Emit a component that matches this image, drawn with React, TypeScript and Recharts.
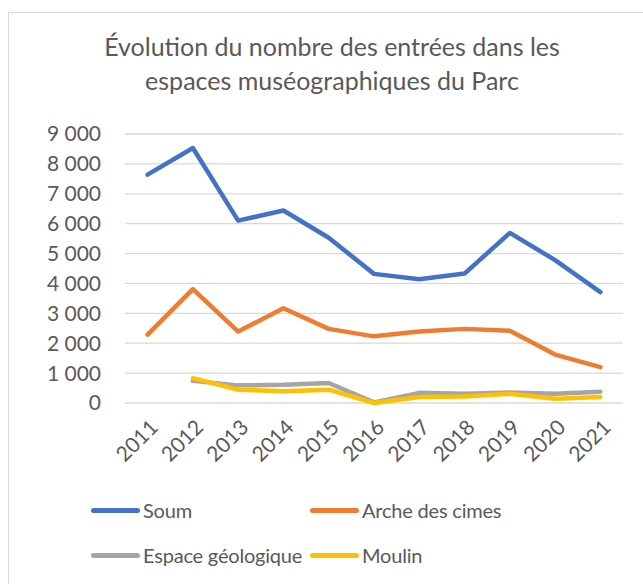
import { LineChart, Line, XAxis, YAxis, CartesianGrid } from "recharts";

const years = ["2011", "2012", "2013", "2014", "2015", "2016", "2017", "2018", "2019", "2020", "2021"];
const soum = [7640, 8530, 6100, 6440, 5530, 4320, 4140, 4330, 5690, 4780, 3710];
const arche = [2290, 3810, 2390, 3170, 2480, 2230, 2390, 2480, 2420, 1620, 1200];
const geologique = [null, 740, 590, 610, 670, 20, 340, 310, 355, 310, 380];
const moulin = [null, 830, 445, 390, 445, 0, 200, 220, 310, 145, 200];
const yTicks = [0, 1000, 2000, 3000, 4000, 5000, 6000, 7000, 8000, 9000];

const series = [
  { key: "soum", name: "Soum", color: "#4472C4" },
  { key: "arche", name: "Arche des cimes", color: "#ED7D31" },
  { key: "geologique", name: "Espace géologique", color: "#A5A5A5" },
  { key: "moulin", name: "Moulin", color: "#FFC000" },
];

const data = years.map((year, i) => ({
  year,
  soum: soum[i],
  arche: arche[i],
  geologique: geologique[i],
  moulin: moulin[i],
}));

const FONT = "Lato, 'Open Sans', sans-serif";
const TEXT = "#595959";

const fmt = (v: number) => String(v).replace(/\B(?=(\d{3})+(?!\d))/g, " ");

function YearTick(props: any) {
  const { x, y, payload } = props;
  return (
    <g transform={`translate(${x + 6},${y + 12})`}>
      <text
        x={0}
        y={0}
        dy={8}
        textAnchor="end"
        transform="rotate(-45)"
        fill={TEXT}
        fontSize={21}
        fontFamily={FONT}
      >
        {payload.value}
      </text>
    </g>
  );
}

export default function App() {
  return (
    <div style={{ position: "absolute", left: 0, top: 0, width: 643, height: 584, background: "#fff", overflow: "hidden" }}>
      <div
        style={{
          position: "absolute",
          left: 8,
          top: 12,
          width: 700,
          height: 600,
          borderTop: "1px solid #d9d9d9",
          borderLeft: "1px solid #d9d9d9",
        }}
      />
      <div
        style={{
          position: "absolute",
          left: 8,
          width: 648,
          top: 29,
          textAlign: "center",
          fontFamily: FONT,
          fontSize: 25,
          lineHeight: "34px",
          color: TEXT,
        }}
      >
        Évolution du nombre des entrées dans les
        <br />
        espaces muséographiques du Parc
      </div>
      <div style={{ position: "absolute", left: 0, top: 0 }}>
        <LineChart width={643} height={584} data={data} margin={{ top: 134, right: 20, left: 0, bottom: 101 }}>
          <CartesianGrid vertical={false} stroke="#d9d9d9" strokeWidth={1.3} />
          <XAxis
            dataKey="year"
            axisLine={false}
            tickLine={false}
            padding={{ left: 22.6, right: 22.6 }}
            height={80}
            interval={0}
            tick={<YearTick />}
          />
          <YAxis
            domain={[0, 9000]}
            ticks={yTicks}
            tickFormatter={fmt}
            axisLine={false}
            tickLine={false}
            tickSize={0}
            tickMargin={24}
            width={125}
            interval={0}
            tick={{ fill: TEXT, fontSize: 21, fontFamily: FONT }}
          />
          {series.map((s) => (
            <Line
              key={s.key}
              dataKey={s.key}
              name={s.name}
              stroke={s.color}
              strokeWidth={4.5}
              strokeLinecap="round"
              strokeLinejoin="round"
              dot={false}
              activeDot={false}
              isAnimationActive={false}
            />
          ))}
        </LineChart>
      </div>
      {series.map((s, i) => (
        <div
          key={s.key}
          style={{
            position: "absolute",
            left: i % 2 === 0 ? 91 : 310,
            top: i < 2 ? 495 : 540,
            display: "flex",
            alignItems: "center",
            height: 30,
            fontFamily: FONT,
            fontSize: 20,
            letterSpacing: -0.2,
            color: TEXT,
            whiteSpace: "nowrap",
          }}
        >
          <span style={{ display: "inline-block", width: 49, height: 5, borderRadius: 3, background: s.color, marginRight: 3 }} />
          {s.name}
        </div>
      ))}
    </div>
  );
}
